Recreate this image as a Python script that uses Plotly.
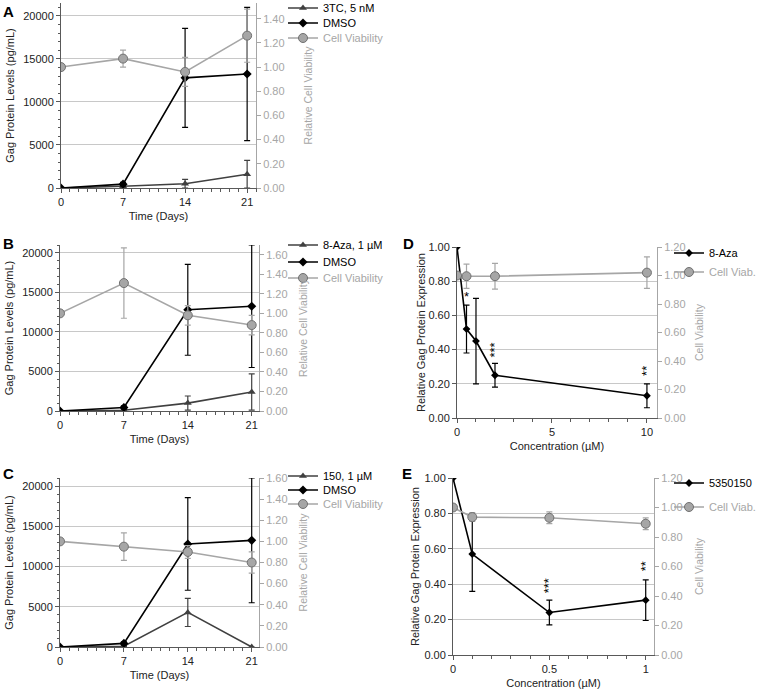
import plotly.graph_objects as go

#Time points (days) for panels A-C
days = [0, 7, 14, 21]

#DMSO control (same in A, B, C)
dmso = [0, 450, 12800, 13250]
dmso_err = [0, 200, 5750, 7750]

#Panel A - 3TC, 5 nM
a_drug = [0, 200, 500, 1600]
a_drug_err = [0, 100, 500, 1600]
a_cv = [1.00, 1.07, 0.96, 1.26]
a_cv_err = [0, 0.07, 0.12, 0.22]

#Panel B - 8-Aza, 1 uM
b_drug = [0, 100, 1000, 2400]
b_drug_err = [0, 60, 900, 2300]
b_cv = [1.00, 1.31, 0.98, 0.88]
b_cv_err = [0, 0.36, 0.10, 0.10]

#Panel C - 150, 1 uM
c_drug = [0, 100, 4300, 0]
c_drug_err = [0, 60, 1750, 0]
c_cv = [1.00, 0.95, 0.90, 0.80]
c_cv_err = [0, 0.13, 0.06, 0.10]

#Panel D - 8-Aza dose response
d_conc = [0, 0.5, 1, 2, 10]
d_gag = [1.00, 0.52, 0.45, 0.25, 0.13]
d_gag_err = [0, 0.14, 0.25, 0.07, 0.07]
d_cv_conc = [0, 0.5, 2, 10]
d_cv = [1.00, 0.995, 0.995, 1.02]
d_cv_err = [0, 0.085, 0.09, 0.11]
d_stars = ["*", "***", "**"]
d_star_x = [0.5, 2, 10]
d_star_y = [0.71, 0.40, 0.275]

#Panel E - 5350150 dose response
e_conc = [0, 0.1, 0.5, 1]
e_gag = [1.00, 0.57, 0.24, 0.31]
e_gag_err = [0, 0.21, 0.07, 0.115]
e_cv = [1.00, 0.935, 0.93, 0.89]
e_cv_err = [0, 0.03, 0.04, 0.04]
e_stars = ["***", "**"]
e_star_x = [0.5, 1]
e_star_y = [0.39, 0.50]

W, H = 763, 691
FONT = "Liberation Sans, Arial, sans-serif"
GRAY = "#a6a6a6"
GRID = "#c8c8c8"
DARK = "#404040"

def px_x(p):
    return p / W

def px_y(p):
    return 1 - p / H

fig = go.Figure()
layout = {}
annotations = []
n_legends = [0]

letter_pos = {"A": (8, 12), "B": (8, 243), "C": (8, 473), "D": (408, 243), "E": (407, 473)}

#one small legend per entry so each row sits where it is in the original
def new_legend(x, ycenter):
    n_legends[0] += 1
    key = "legend" if n_legends[0] == 1 else f"legend{n_legends[0]}"
    layout[key] = dict(
        x=px_x(x), y=px_y(ycenter), xanchor="left", yanchor="middle",
        font=dict(size=11, color="#000000", family=FONT), bgcolor="rgba(0,0,0,0)",
    )
    return key

def panel(i, letter, box, xrange, xdtick, xminor, xtitle,
          lrange, ldtick, lminor, lfmt, ltitle, lstand,
          rrange, rdtick, rtitle, rstand):
    xid = "x" if i == 1 else f"x{i}"
    ly, ry = 2 * i - 1, 2 * i
    lyid = "y" if ly == 1 else f"y{ly}"
    ryid = f"y{ry}"
    xkey = "xaxis" if i == 1 else f"xaxis{i}"
    lkey = "yaxis" if ly == 1 else f"yaxis{ly}"
    rkey = f"yaxis{ry}"
    x0, x1, y0, y1 = box
    layout[xkey] = dict(
        domain=[px_x(x0), px_x(x1)], anchor=lyid, range=xrange, automargin=False,
        dtick=xdtick, tick0=0, ticks="outside", ticklen=4, tickcolor="#595959",
        minor=dict(dtick=xminor, ticks="outside", ticklen=3, tickcolor="#595959", showgrid=False),
        showline=True, linecolor="#595959", linewidth=1, showgrid=False, zeroline=False,
        tickfont=dict(size=11, color="#222222"),
        title=dict(text=xtitle, font=dict(size=11, color="#222222"), standoff=5),
    )
    left = dict(
        domain=[px_y(y1), px_y(y0)], anchor=xid, range=lrange, automargin=False,
        dtick=ldtick, tick0=0, tickformat=lfmt, ticks="outside", ticklen=4, tickcolor="#595959",
        showline=True, linecolor="#595959", linewidth=1,
        showgrid=True, gridcolor=GRID, gridwidth=1, zeroline=False,
        tickfont=dict(size=11, color="#222222"),
        title=dict(text=ltitle, font=dict(size=11, color="#222222"), standoff=lstand),
    )
    if lminor:
        left["minor"] = dict(dtick=lminor, ticks="outside", ticklen=2, tickcolor="#595959", showgrid=False)
    layout[lkey] = left
    layout[rkey] = dict(
        overlaying=lyid, anchor=xid, side="right", range=rrange, automargin=False,
        dtick=rdtick, tick0=0, tickformat=".2f", ticks="outside", ticklen=4, tickcolor=GRAY,
        showline=True, linecolor=GRAY, linewidth=1, showgrid=False, zeroline=False,
        tickfont=dict(size=11, color=GRAY),
        title=dict(text=rtitle, font=dict(size=10.5, color=GRAY), standoff=rstand),
    )
    annotations.append(dict(
        text="<b>" + letter + "</b>", x=px_x(letter_pos[letter][0]), y=px_y(letter_pos[letter][1]),
        xref="paper", yref="paper", xanchor="center", yanchor="middle", showarrow=False,
        font=dict(size=15, color="#000000"),
    ))
    return xid, lyid, ryid

def line_trace(x, y, err, name, color, symbol, size, xid, yid, lg):
    return go.Scatter(
        x=x, y=y, name=name, mode="lines+markers", xaxis=xid, yaxis=yid, legend=lg,
        line=dict(color=color, width=1.6),
        marker=dict(symbol=symbol, size=size, color=color),
        error_y=dict(type="data", array=err, color=color, thickness=1.2, width=3),
    )

def cv_trace(x, y, err, name, xid, yid, lg):
    return go.Scatter(
        x=x, y=y, name="<span style='color:#a6a6a6'>" + name + "</span>", mode="lines+markers",
        xaxis=xid, yaxis=yid, legend=lg,
        line=dict(color=GRAY, width=1.6),
        marker=dict(symbol="circle", size=9, color=GRAY, line=dict(color="#707070", width=1)),
        error_y=dict(type="data", array=err, color=GRAY, thickness=1.2, width=3),
    )

#Panels A-C: time course
time_panels = [
    (1, "A", (61, 256, 3, 188), 22.0, [0, 21500], [0, 1.53], "3TC, 5 nM", a_drug, a_drug_err, a_cv, a_cv_err, 21, (8, 23, 38)),
    (2, "B", (60, 259, 245, 411), 21.8, [0, 21000], [0, 1.70], "8-Aza, 1 µM", b_drug, b_drug_err, b_cv, b_cv_err, 13, (245, 262, 278)),
    (3, "C", (60, 259, 478, 647), 21.8, [0, 21000], [0, 1.60], "150, 1 µM", c_drug, c_drug_err, c_cv, c_cv_err, 13, (476, 490, 504)),
]
for i, letter, box, xmax, lr, rr, dname, drug, derr, cv, cverr, rst, rows in time_panels:
    xid, lyid, ryid = panel(i, letter, box, [0, xmax], 7, 1, "Time (Days)",
                            lr, 5000, 1000, "d", "Gag Protein Levels (pg/mL)", 6,
                            rr, 0.2, "Relative Cell Viability", rst)
    fig.add_trace(line_trace(days, drug, derr, dname, DARK, "triangle-up", 7, xid, lyid, new_legend(283, rows[0])))
    fig.add_trace(line_trace(days, dmso, dmso_err, "DMSO", "#000000", "diamond", 7, xid, lyid, new_legend(283, rows[1])))
    fig.add_trace(cv_trace(days, cv, cverr, "Cell Viability", xid, ryid, new_legend(283, rows[2])))

#Panels D-E: dose response
dose_panels = [
    (4, "D", (457, 657, 247, 418), [0, 10.53], 5, 1, "8-Aza", d_conc, d_gag, d_gag_err,
     d_cv_conc, d_cv, d_cv_err, d_stars, d_star_x, d_star_y, 0, 11, (253, 272)),
    (5, "E", (453, 654, 478, 655), [0, 1.043], 0.5, 0.1, "5350150", e_conc, e_gag, e_gag_err,
     e_conc, e_cv, e_cv_err, e_stars, e_star_x, e_star_y, 2, 14, (483, 507)),
]
for (i, letter, box, xr, xd, xm, dname, conc, gag, gerr, cvx, cv, cverr,
     stars, sx, sy, lst, rst, rows) in dose_panels:
    xid, lyid, ryid = panel(i, letter, box, xr, xd, xm, "Concentration (µM)",
                            [0, 1.0], 0.2, None, ".2f", "Relative Gag Protein Expression", lst,
                            [0, 1.2], 0.2, "Cell Viability", rst)
    fig.add_trace(line_trace(conc, gag, gerr, dname, "#000000", "diamond", 6, xid, lyid, new_legend(669, rows[0])))
    fig.add_trace(cv_trace(cvx, cv, cverr, "Cell Viab.", xid, ryid, new_legend(669, rows[1])))
    for s, x, y in zip(stars, sx, sy):
        annotations.append(dict(
            text=s, x=x, y=y, xref=xid, yref=lyid, showarrow=False,
            textangle=-90 if len(s) > 1 else 0, font=dict(size=13, color="#000000"),
        ))

fig.update_layout(**layout)
fig.update_layout(
    width=W, height=H, autosize=False,
    margin=dict(l=0, r=0, t=0, b=0, autoexpand=False),
    paper_bgcolor="white", plot_bgcolor="white",
    font=dict(family=FONT, size=11, color="#222222"),
    showlegend=True,
    annotations=annotations,
)
#the page body has a default 8px margin; drop it so the figure fills the window
fig.write_html("out.html", config={"displayModeBar": False},
               post_script="document.body.style.margin='0px';")
